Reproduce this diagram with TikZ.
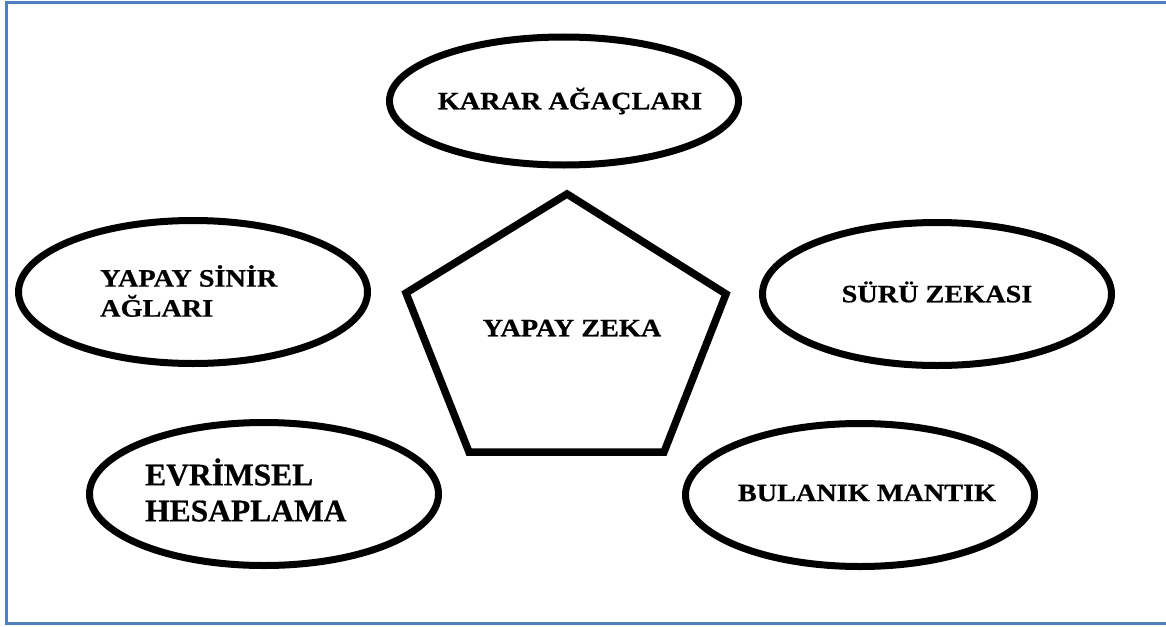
\documentclass[tikz,border=0pt]{standalone}
\usepackage{fontspec}
\setmainfont{Liberation Serif}
\newfontfamily\lblfont[FakeStretch=1.13,FakeBold=0.6]{Liberation Serif}
\newfontfamily\bigfont[FakeBold=0.6]{Liberation Serif}
\usetikzlibrary{shapes.geometric}
\definecolor{framebl}{RGB}{79,129,189}
\tikzset{
  bubble/.style={ellipse, draw=black, line width=7pt, minimum width=349pt, minimum height=143pt, inner sep=0pt},
  lbl/.style={font=\lblfont\bfseries\fontsize{25}{30}\selectfont, inner sep=0pt, align=left},
  biglbl/.style={font=\bigfont\bfseries\fontsize{31.5}{36}\selectfont, inner sep=0pt, align=left},
  frameline/.style={draw=framebl, line width=3pt},
  penta/.style={draw=black, line width=7.5pt, line join=miter}
}
\begin{document}
\begin{tikzpicture}[x=1pt,y=-1pt]
\useasboundingbox (0,0) rectangle (1166,626);
\draw[frameline] (1167,2.5) -- (6,2.5) -- (6,623.5) -- (1167,623.5);

\node[bubble, minimum height=128pt] (karar) at (564,101) {};
\node[bubble] (ysa) at (193,292) {};
\node[bubble] (suru) at (937,294) {};
\node[bubble] (evr) at (264,494) {};
\node[bubble] (bul) at (860,495) {};

\coordinate (p1) at (567,194);
\coordinate (p2) at (726,294);
\coordinate (p3) at (664,452);
\coordinate (p4) at (469,452);
\coordinate (p5) at (406,293);
\draw[penta] (p1) -- (p2) -- (p3) -- (p4) -- (p5) -- cycle;

\node[lbl] (tkarar) at (570,101) {KARAR AĞAÇLARI};
\node[lbl, anchor=west] (tysa) at (100,291) {YAPAY SİNİR\\AĞLARI};
\node[lbl] (tyz) at (572,328) {YAPAY ZEKA};
\node[lbl] (tsuru) at (937,292) {SÜRÜ ZEKASI};
\node[biglbl, anchor=west] (tevr) at (145,490) {EVRİMSEL\\HESAPLAMA};
\node[lbl] (tbul) at (867,493) {BULANIK MANTIK};
\end{tikzpicture}
\end{document}
